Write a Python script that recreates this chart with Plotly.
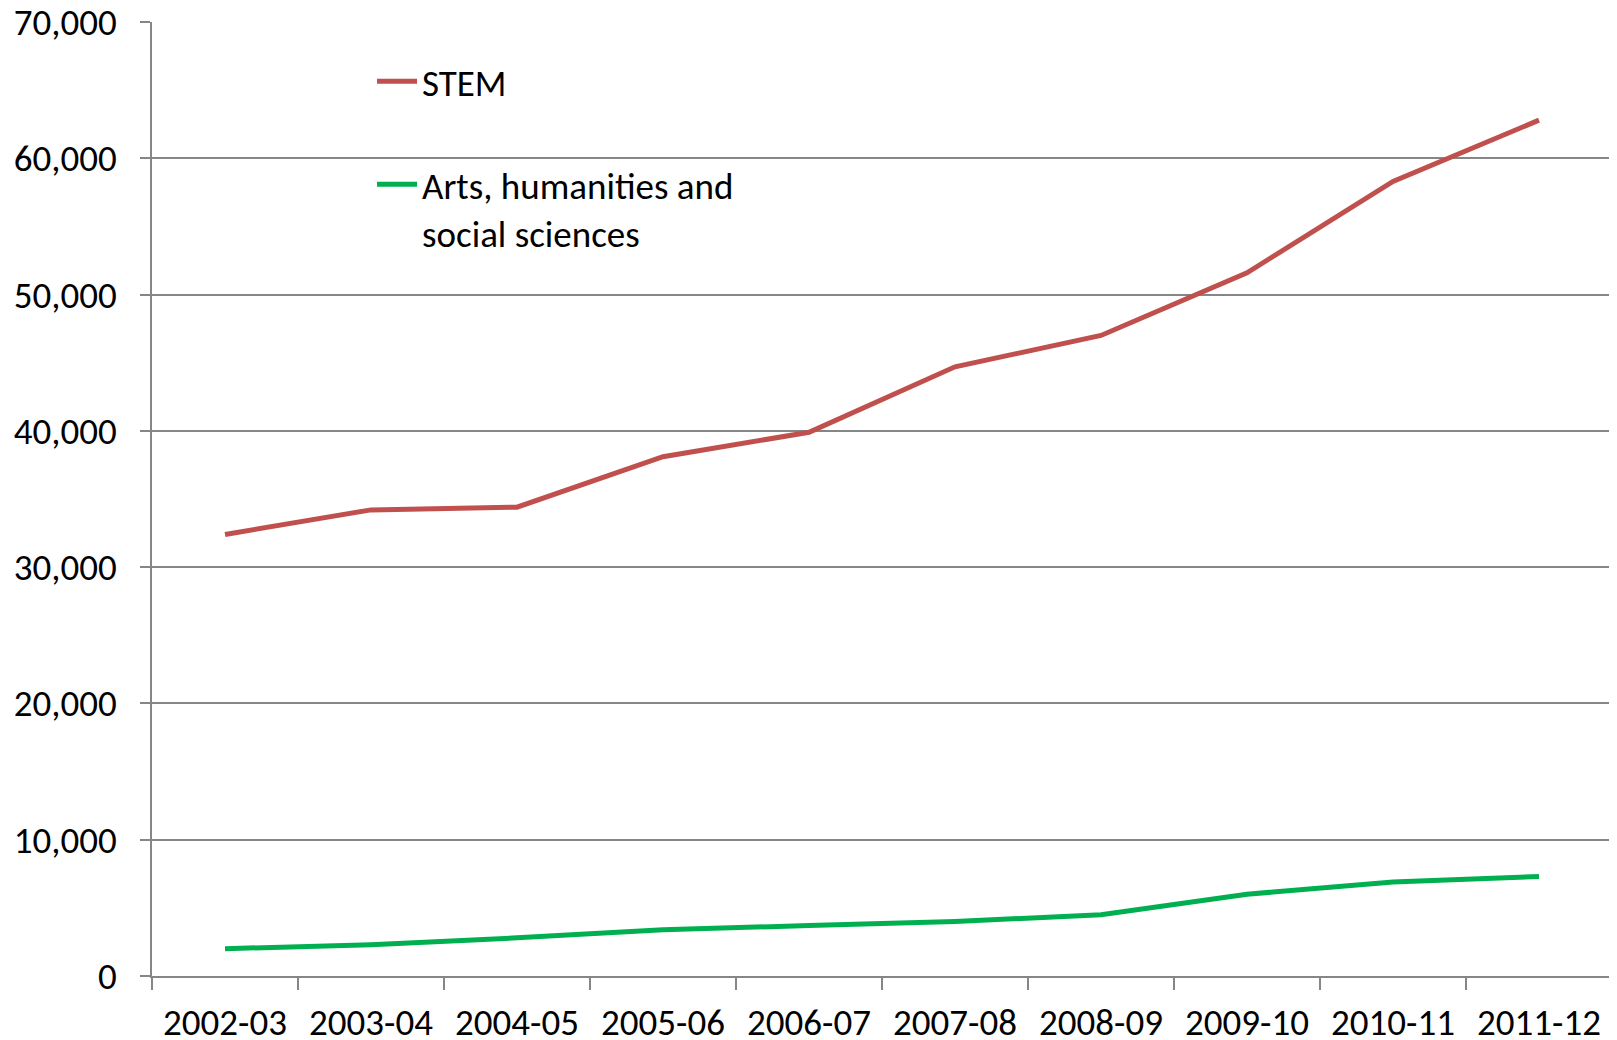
import plotly.graph_objects as go

years = ['2002-03', '2003-04', '2004-05', '2005-06', '2006-07',
         '2007-08', '2008-09', '2009-10', '2010-11', '2011-12']
stem = [32400, 34200, 34400, 38100, 39900, 44700, 47000, 51600, 58300, 62800]
arts = [2000, 2300, 2800, 3400, 3700, 4000, 4500, 6000, 6900, 7300]

font_family = "Carlito, 'Liberation Sans Narrow', 'DejaVu Sans Condensed', sans-serif"
grid_color = '#868686'
fs = 37

fig = go.Figure()
fig.add_trace(go.Scatter(x=years, y=stem, mode='lines', name='STEM',
                         line=dict(color='#C0504D', width=5),
                         legendgroup='stem'))
fig.add_trace(go.Scatter(x=years, y=arts, mode='lines',
                         name='Arts, humanities and<br>social sciences',
                         line=dict(color='#00B050', width=5),
                         legendgroup='arts'))

# page body has an 8px margin, so the figure is a bit smaller than the window
fig.update_layout(
    width=1609, height=1032,
    margin=dict(l=144, r=5, t=14, b=64, pad=0),
    paper_bgcolor='white', plot_bgcolor='white',
    font=dict(family=font_family, size=fs, color='black'),
    showlegend=True,
    legend=dict(x=0.1507, y=0.97, xanchor='left', yanchor='top',
                bgcolor='rgba(0,0,0,0)', traceorder='grouped',
                tracegroupgap=52, valign='top', itemwidth=40,
                font=dict(family=font_family, size=fs)),
)
fig.update_xaxes(type='category', range=[-0.5, 9.5], automargin=False,
                 tickson='boundaries', ticks='outside', ticklen=12,
                 tickwidth=1.5, tickcolor=grid_color,
                 showline=True, linecolor=grid_color, linewidth=1.5,
                 showgrid=False, ticklabelstandoff=13, ticklabeloverflow='allow',
                 tickfont=dict(family=font_family, size=fs))
fig.update_yaxes(range=[0, 70000], dtick=10000, tickformat=',d', automargin=False,
                 ticks='outside', ticklen=10, tickwidth=1.5, tickcolor=grid_color,
                 showline=True, linecolor=grid_color, linewidth=1.5,
                 showgrid=True, gridcolor=grid_color, gridwidth=1.5,
                 zeroline=False, ticklabelstandoff=16, ticklabeloverflow='allow',
                 tickfont=dict(family=font_family, size=fs))

fig.write_html("out.html")
